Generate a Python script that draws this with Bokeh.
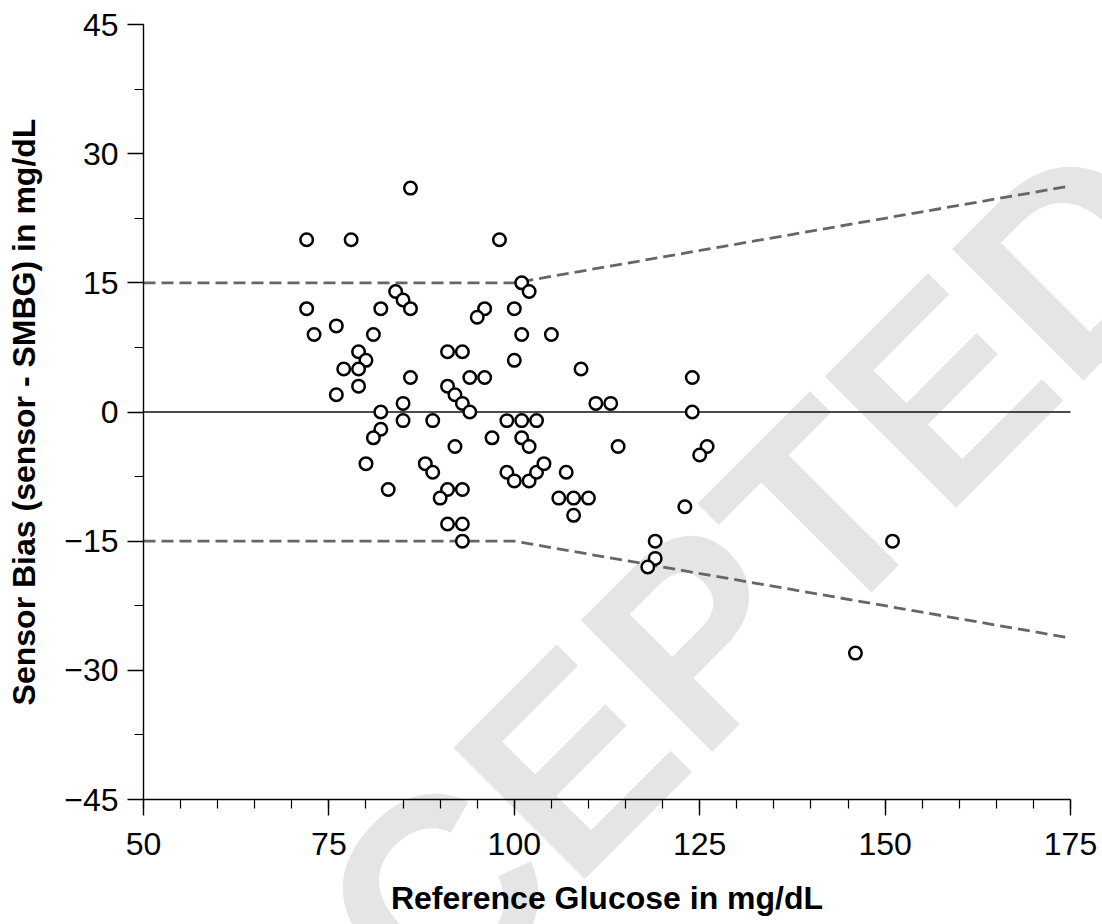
import math
from bokeh.plotting import figure
from bokeh.models import Range1d, FixedTicker, Label
from bokeh.embed import file_html
from bokeh.resources import INLINE

# ---- data ----
ref_glucose = [72, 78, 98, 86, 101, 102, 84, 85, 86, 72, 82, 96, 95, 100,
               73, 76, 81, 101, 105, 79, 80, 77, 79, 79, 76, 91, 93, 100,
               86, 94, 96, 91, 92, 93, 94, 85, 82, 85, 89, 99, 101, 103,
               82, 81, 97, 101, 102, 92, 80, 88, 89, 83, 91, 93, 90, 91,
               93, 93, 99, 100, 102, 103, 104, 106, 111, 113, 124, 124,
               114, 126, 125, 107, 108, 110, 108, 123, 119, 119, 118, 109,
               151, 146]
sensor_bias = [20, 20, 20, 26, 15, 14, 14, 13, 12, 12, 12, 12, 11, 12,
               9, 10, 9, 9, 9, 7, 6, 5, 5, 3, 2, 7, 7, 6,
               4, 4, 4, 3, 2, 1, 0, 1, 0, -1, -1, -1, -1, -1,
               -2, -3, -3, -3, -4, -4, -6, -6, -7, -9, -9, -9, -10, -13,
               -13, -15, -7, -8, -8, -7, -6, -10, 1, 1, 0, 4,
               -4, -4, -5, -7, -10, -10, -12, -11, -15, -17, -18, 5,
               -15, -28]

limit_x = [50, 100, 175]
upper_limit = [15, 15, 26.25]
lower_limit = [-15, -15, -26.25]
zero_x = [50, 175]
zero_y = [0, 0]

x_min, x_max = 50, 175
y_min, y_max = -45, 45
x_ticks = [50, 75, 100, 125, 150, 175]
x_minor = [v for v in range(50, 176, 5)]
y_ticks = [-45, -30, -15, 0, 15, 30, 45]
y_minor = [-45, -37.5, -30, -22.5, -15, -7.5, 0, 7.5, 15, 22.5, 30, 37.5, 45]

watermark_text = "ACCEPTED"

# The frame covers the whole canvas; axes are pinned at the data edges so the
# watermark can run past the axes like in the reference.
W, H = 1102, 924
left, right, top, bottom = 143, 1070, 24, 799
sx = (right - left) / (x_max - x_min)
sy = (bottom - top) / (y_max - y_min)
xr = Range1d(x_min - left / sx, x_max + (W - right) / sx)
yr = Range1d(y_min - (H - bottom) / sy, y_max + top / sy)

p = figure(width=W, height=H, output_backend="svg", toolbar_location=None,
           x_range=xr, y_range=yr,
           min_border_left=0, min_border_right=0, min_border_top=0,
           min_border_bottom=0)
p.outline_line_color = None
p.xgrid.visible = False
p.ygrid.visible = False
p.background_fill_color = "white"
p.border_fill_color = "white"

# watermark
wm = Label(x=113.9, y=-35.1, text=watermark_text, angle=math.pi / 4,
           text_font="Liberation Sans", text_font_style="bold",
           text_font_size="270px", text_color="#e5e5e5",
           text_align="center", text_baseline="middle", level="underlay")
p.add_layout(wm)

p.line(zero_x, zero_y, line_color="#111111", line_width=1.3)
p.line(limit_x, upper_limit, line_color="#666666", line_width=2.8, line_dash="12 6")
p.line(limit_x, lower_limit, line_color="#666666", line_width=2.8, line_dash="12 6")

p.scatter(ref_glucose, sensor_bias, marker="circle", size=12.5,
          fill_color="white", line_color="black", line_width=2.5)

for ax in (p.xaxis[0], p.yaxis[0]):
    ax.axis_line_color = "black"
    ax.axis_line_width = 1.4
    ax.major_tick_line_color = "black"
    ax.minor_tick_line_color = "black"
    ax.major_tick_line_width = 1.4
    ax.minor_tick_line_width = 1.2
    ax.major_tick_in = 0
    ax.major_tick_out = 16
    ax.minor_tick_in = 0
    ax.minor_tick_out = 9
    ax.major_label_text_font = "Liberation Sans"
    ax.major_label_text_font_size = "32px"
    ax.major_label_text_color = "black"
    ax.axis_label_text_font = "Liberation Sans"
    ax.axis_label_text_font_style = "bold"
    ax.axis_label_text_font_size = "32px"
    ax.axis_label_text_color = "black"

p.xaxis.fixed_location = y_min
p.yaxis.fixed_location = x_min
p.xaxis.bounds = (x_min, x_max)
p.yaxis.bounds = (y_min, y_max)
p.xaxis.ticker = FixedTicker(ticks=x_ticks, minor_ticks=x_minor)
p.yaxis.ticker = FixedTicker(ticks=y_ticks, minor_ticks=y_minor)
p.xaxis.axis_label = "Reference Glucose in mg/dL"
p.yaxis.axis_label = "Sensor Bias (sensor - SMBG) in mg/dL"
p.xaxis.major_label_standoff = 17
p.yaxis.major_label_standoff = 9
p.xaxis.axis_label_standoff = 22
p.yaxis.axis_label_standoff = 19

open("out.html", "w").write(file_html(p, INLINE))
